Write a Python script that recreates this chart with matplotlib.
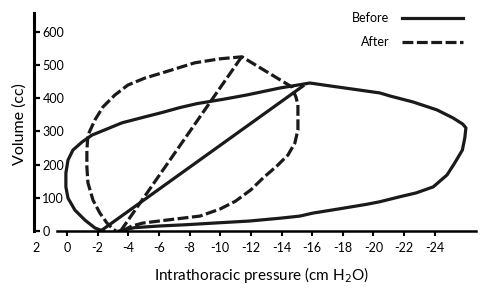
import matplotlib.pyplot as plt

plt.rcParams['font.family'] = ['Lato', 'DejaVu Sans']

# before: loop (pressure in cm H2O, volume in cc)
before_p = [-3.4, -4.4, -6.0, -7.8, -10.0, -11.9, -14.0, -15.2, -16.05, -17.8,
            -19.5, -20.4, -21.7, -22.8, -23.9, -24.8, -25.3, -25.8, -25.96, -26.03,
            -25.83, -25.18, -24.14, -22.57, -21.07, -20.42, -18.59, -17.2, -15.85, -13.9,
            -11.74, -10.2, -8.5, -7.37, -6.2, -5.09, -3.59, -2.48, -1.63, -0.98,
            -0.39, -0.07, 0.07, 0.07, -0.07, -0.52, -1.17, -1.83, -2.35]
before_v = [0, 10, 15, 19, 25, 30, 39, 45, 54, 67,
            80, 88, 103, 115, 133, 169, 205, 244, 281, 311,
            322, 341, 365, 389, 407, 416, 428, 437, 446, 431,
            410, 397, 384, 372, 357, 344, 326, 305, 289, 268,
            244, 214, 175, 133, 99, 63, 33, 9, 0]
before_diag_p = [-2.2, -15.4]
before_diag_v = [0, 437]

# after
after_p = [-3.59, -4.24, -4.96, -6.52, -8.68, -9.98, -11.0, -12.0, -12.8, -13.7,
           -14.42, -14.87, -15.07, -15.07, -15.07, -14.94, -14.74, -14.68, -11.42, -10.0,
           -8.35, -6.39, -5.09, -3.98, -3.13, -2.35, -1.83, -1.37, -1.30, -1.30,
           -1.37, -1.70, -2.15, -2.61, -3.0, -3.2]
after_v = [0, 15, 24, 33, 45, 66, 90, 124, 160, 196,
           229, 265, 305, 344, 380, 404, 425, 434, 525, 519,
           507, 479, 461, 440, 410, 374, 335, 289, 244, 193,
           145, 93, 54, 24, 6, 0]
after_diag_p = [-3.5, -11.4]
after_diag_v = [0, 525]

x_ticks = list(range(2, -25, -2))
y_ticks = [0, 100, 200, 300, 400, 500, 600]

fig = plt.figure(figsize=(4.85, 2.9), dpi=100)
ax = fig.add_axes([34 / 485, 59 / 290, 446 / 485, 218 / 290])

lw = 2.3
ax.plot(before_p, before_v, color='#1a1a1a', lw=lw, solid_joinstyle='round', label='Before')
ax.plot(before_diag_p, before_diag_v, color='#1a1a1a', lw=lw)
ax.plot(after_p, after_v, color='#1a1a1a', lw=lw, dashes=(3.4, 1.1), label='After')
ax.plot(after_diag_p, after_diag_v, color='#1a1a1a', lw=lw, dashes=(3.4, 1.1))

ax.set_xlim(2.15, -26.95)
ax.set_ylim(0, 657)

for s in ['top', 'right']:
    ax.spines[s].set_visible(False)
ax.spines['left'].set_linewidth(2.2)
ax.spines['bottom'].set_linewidth(1.8)
ax.spines['bottom'].set_bounds(0.65, -26.7)

ax.set_xticks(x_ticks)
ax.set_xticklabels([str(t) for t in x_ticks])
ax.xaxis.get_major_ticks()[0].tick1line.set_visible(False)
ax.tick_params(axis='x', direction='out', length=3.6, width=1.5, pad=4, labelsize=9)

ax.set_yticks(y_ticks)
ax.tick_params(axis='y', direction='in', length=4.5, width=1.6, pad=-6, labelsize=9)
for lab in ax.get_yticklabels():
    lab.set_horizontalalignment('left')

ax.set_xlabel('Intrathoracic pressure (cm H$_2$O)', fontsize=11)
ax.set_ylabel('Volume (cc)', fontsize=11.5)
ax.xaxis.set_label_coords(0.511, -0.155)
ax.yaxis.set_label_coords(-0.016, 0.49)

ax.legend(loc='upper right', bbox_to_anchor=(463 / 485, 1 - 12 / 290),
          bbox_transform=fig.transFigure, markerfirst=False, frameon=False,
          fontsize=9, handlelength=4.9, handletextpad=1.0, labelspacing=0.95,
          borderpad=0, borderaxespad=0)

plt.savefig('out.png', dpi=100)
